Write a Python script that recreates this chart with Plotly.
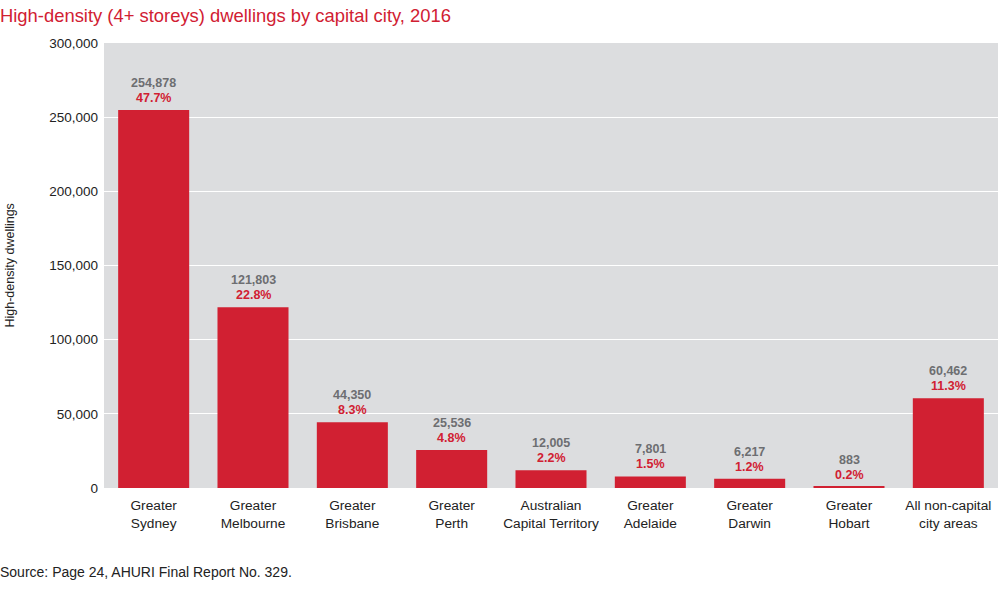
import plotly.graph_objects as go

categories = ["Greater<br>Sydney", "Greater<br>Melbourne", "Greater<br>Brisbane", "Greater<br>Perth",
              "Australian<br>Capital Territory", "Greater<br>Adelaide", "Greater<br>Darwin",
              "Greater<br>Hobart", "All non-capital<br>city areas"]
dwellings = [254878, 121803, 44350, 25536, 12005, 7801, 6217, 883, 60462]
shares = [47.7, 22.8, 8.3, 4.8, 2.2, 1.5, 1.2, 0.2, 11.3]
y_ticks = [0, 50000, 100000, 150000, 200000, 250000, 300000]

RED = "#d12032"
FONT = "Liberation Sans, Arial, sans-serif"

fig = go.Figure(go.Bar(x=categories, y=dwellings, marker_color=RED, marker_line_width=0, width=0.715))

for c, v, s in zip(categories, dwellings, shares):
    fig.add_annotation(x=c, y=v, text=f"<b>{s:.1f}%</b>", showarrow=False, yanchor="bottom",
                       yshift=3, font=dict(family=FONT, size=12.5, color=RED))
    fig.add_annotation(x=c, y=v, text=f"<b>{v:,}</b>", showarrow=False, yanchor="bottom",
                       yshift=18, font=dict(family=FONT, size=12.5, color="#6d6e71"))

fig.add_annotation(xref="paper", yref="paper", x=0, y=1, xshift=-106, yshift=40,
                   text="High-density (4+ storeys) dwellings by capital city, 2016",
                   showarrow=False, xanchor="left", yanchor="top",
                   font=dict(family=FONT, size=18.4, color=RED))
fig.add_annotation(xref="paper", yref="paper", x=0, y=0, xshift=-106, yshift=-84,
                   text="Source: Page 24, AHURI Final Report No. 329.",
                   showarrow=False, xanchor="left", yanchor="middle",
                   font=dict(family=FONT, size=14, color="#222222"))
fig.add_annotation(xref="paper", yref="paper", x=0, y=0.5, xshift=-95,
                   text="High-density dwellings", textangle=-90,
                   showarrow=False, xanchor="center", yanchor="middle",
                   font=dict(family=FONT, size=12.5, color="#222222"))

fig.update_layout(
    width=1004, height=609,
    margin=dict(l=104, r=6, t=43, b=121),
    paper_bgcolor="white", plot_bgcolor="#dcdddf",
    font=dict(family=FONT, size=13.5, color="#222222"),
    showlegend=False, bargap=0.285,
)
fig.update_yaxes(range=[0, 300000], tickvals=y_ticks, tickformat=",", gridcolor="white", gridwidth=1,
                 zeroline=False, ticks="", ticklen=0, showline=False, automargin=False,
                 tickfont=dict(size=13.5), ticklabelstandoff=5)
fig.update_xaxes(showgrid=False, ticks="", showline=False, automargin=False, tickfont=dict(size=13.7),
                 ticklabelstandoff=7)

fig.write_html("out.html", config={"displayModeBar": False},
               post_script="document.body.style.margin='0';document.body.style.overflow='hidden';")
